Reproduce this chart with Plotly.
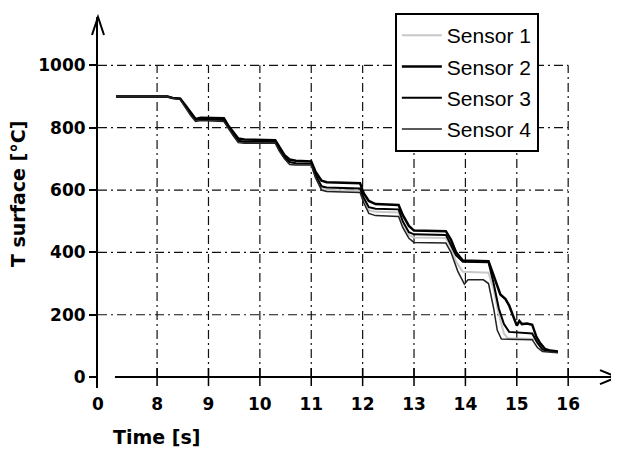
import plotly.graph_objects as go

# time [s] and surface temperature [°C]
t_s1 = [7.2, 8.2, 8.3, 8.45, 8.55, 8.65, 8.75, 8.85, 9.3, 9.38, 9.48, 9.58, 9.7, 10.3, 10.38, 10.48,
        10.58, 10.7, 11.0, 11.08, 11.2, 11.3, 11.95, 12.02, 12.12, 12.25, 12.7, 12.78, 12.9, 13.0,
        13.62, 13.72, 13.82, 13.95, 14.45, 14.55, 14.65, 14.75, 14.82, 15.35, 15.45, 15.55, 15.8]
v_s1 = [900, 900, 895, 892, 866, 842, 822, 826, 822, 800, 776, 754, 752, 752, 727, 702, 688, 684,
        682, 645, 605, 600, 598, 568, 535, 530, 528, 492, 455, 448, 446, 415, 370, 338, 335, 280,
        200, 140, 125, 122, 100, 86, 80]

t_s2 = [7.2, 8.2, 8.3, 8.45, 8.55, 8.65, 8.75, 8.85, 9.3, 9.38, 9.48, 9.58, 9.7, 10.3, 10.38, 10.48,
        10.58, 10.7, 11.0, 11.08, 11.2, 11.3, 11.95, 12.02, 12.12, 12.25, 12.7, 12.78, 12.9, 13.0,
        13.62, 13.72, 13.82, 13.95, 14.45, 14.52, 14.6, 14.68, 14.78, 14.85, 14.92, 15.0, 15.05,
        15.1, 15.2, 15.3, 15.38, 15.45, 15.55, 15.65, 15.8]
v_s2 = [900, 900, 895, 893, 872, 848, 828, 832, 830, 808, 785, 765, 762, 760, 738, 712, 698, 694,
        692, 660, 630, 625, 622, 590, 565, 555, 552, 520, 485, 470, 468, 440, 400, 374, 372, 340,
        300, 265, 250, 230, 200, 165, 180, 170, 172, 168, 130, 110, 90, 85, 82]

t_s3 = [7.2, 8.2, 8.3, 8.45, 8.55, 8.65, 8.75, 8.85, 9.3, 9.38, 9.48, 9.58, 9.7, 10.3, 10.38, 10.48,
        10.58, 10.7, 11.0, 11.08, 11.2, 11.3, 11.95, 12.02, 12.12, 12.25, 12.7, 12.78, 12.9, 13.0,
        13.62, 13.72, 13.82, 13.95, 14.45, 14.55, 14.65, 14.75, 14.85, 15.3, 15.4, 15.5, 15.8]
v_s3 = [900, 900, 895, 893, 868, 845, 825, 828, 825, 802, 780, 758, 755, 755, 730, 705, 690, 686,
        685, 650, 612, 608, 605, 575, 545, 540, 538, 500, 465, 458, 456, 425, 390, 370, 368, 300,
        220, 170, 145, 140, 110, 88, 80]

t_s4 = [7.2, 8.2, 8.3, 8.45, 8.55, 8.65, 8.75, 8.85, 9.3, 9.38, 9.48, 9.58, 9.7, 10.3, 10.38, 10.48,
        10.58, 10.7, 11.0, 11.08, 11.2, 11.3, 11.95, 12.02, 12.12, 12.25, 12.7, 12.78, 12.9, 13.0,
        13.62, 13.72, 13.85, 13.98, 14.05, 14.35, 14.45, 14.55, 14.62, 14.7, 15.3, 15.4, 15.5, 15.8]
v_s4 = [900, 900, 895, 890, 865, 840, 820, 823, 820, 798, 775, 752, 750, 750, 725, 700, 682, 680,
        680, 640, 600, 595, 592, 560, 525, 518, 515, 480, 445, 432, 430, 400, 340, 298, 312, 312,
        300, 220, 150, 122, 120, 95, 82, 78]

sensor_names = ["Sensor 1", "Sensor 2", "Sensor 3", "Sensor 4"]

x_tickvals = [6.85, 8, 9, 10, 11, 12, 13, 14, 15, 16]
x_ticktext = ["0", "8", "9", "10", "11", "12", "13", "14", "15", "16"]
y_tickvals = [0, 200, 400, 600, 800, 1000]

X_MIN, X_MAX = 6.85, 16.95
Y_MIN, Y_MAX = -35, 1155
Y_ZERO_FRAC = (0 - Y_MIN) / (Y_MAX - Y_MIN)

BOLD = dict(family="DejaVu Sans", size=17, color="black", weight="bold")

fig = go.Figure()

styles = [
    dict(color="#c8c8c8", width=2),
    dict(color="black", width=2.5),
    dict(color="black", width=2),
    dict(color="#222222", width=1.5),
]
# sensor 1 (light grey) drawn first so it sits under the others
for rank, name, tt, vv, st in zip(range(4), sensor_names, [t_s1, t_s2, t_s3, t_s4],
                                  [v_s1, v_s2, v_s3, v_s4], styles):
    fig.add_trace(go.Scatter(x=tt, y=vv, mode="lines", name=name, line=st,
                             legendgroup=name, legendrank=rank))

grid = dict(color="#111111", width=1.2, dash="9px,4px,2px,4px")
shapes = []
for xv in x_tickvals[1:]:
    shapes.append(dict(type="line", xref="x", yref="y", x0=xv, x1=xv, y0=0, y1=1000,
                       line=grid, layer="below"))
    # tick crossing the time axis
    shapes.append(dict(type="line", xref="x", yref="y", x0=xv, x1=xv,
                       ysizemode="pixel", yanchor=0, y0=-9, y1=9,
                       line=dict(color="black", width=1.5)))
for yv in y_tickvals[1:]:
    shapes.append(dict(type="line", xref="x", yref="y", x0=X_MIN, x1=16, y0=yv, y1=yv,
                       line=grid, layer="below"))

# time axis with open arrow head
shapes.append(dict(type="line", xref="x", yref="y", x0=7.18, x1=X_MAX, y0=0, y1=0,
                   line=dict(color="black", width=2)))
shapes.append(dict(type="path", xref="paper", yref="paper", xsizemode="pixel", ysizemode="pixel",
                   xanchor=1, yanchor=Y_ZERO_FRAC, path="M-17,7 L0,0 L-17,-7",
                   line=dict(color="black", width=2)))
# temperature axis arrow head
shapes.append(dict(type="path", xref="paper", yref="paper", xsizemode="pixel", ysizemode="pixel",
                   xanchor=0, yanchor=1, path="M-6,-18 L0,0 L6,-18",
                   line=dict(color="black", width=2)))

fig.update_layout(
    width=619,
    height=450,
    margin=dict(l=90, r=10, t=5, b=70),
    paper_bgcolor="white",
    plot_bgcolor="white",
    shapes=shapes,
    showlegend=True,
    legend=dict(
        x=0.572, y=1.0107, xanchor="left", yanchor="top",
        bgcolor="white", bordercolor="black", borderwidth=2,
        font=dict(family="Liberation Sans", size=21, color="black"),
        traceorder="grouped", tracegroupgap=1, itemwidth=40,
    ),
    xaxis=dict(
        range=[X_MIN, X_MAX], tickvals=x_tickvals, ticktext=x_ticktext,
        showgrid=False, zeroline=False, showline=False, ticks="",
        ticklabelstandoff=4, tickfont=BOLD,
    ),
    yaxis=dict(
        range=[Y_MIN, Y_MAX], tickvals=y_tickvals,
        showgrid=False, zeroline=False, showline=True, linecolor="black", linewidth=2,
        ticks="outside", ticklen=7, tickwidth=1.5, tickcolor="black",
        tickfont=BOLD,
    ),
    annotations=[
        dict(text="T surface [°C]", xref="paper", yref="paper", x=-0.154, y=0.523,
             textangle=-90, showarrow=False, xanchor="center", yanchor="middle",
             font=dict(family="DejaVu Sans", size=19, color="black", weight="bold")),
        dict(text="Time [s]", xref="paper", yref="paper", x=0.112, y=-0.131,
             showarrow=False, xanchor="center", yanchor="middle",
             font=dict(family="DejaVu Sans", size=19, color="black", weight="bold")),
    ],
)

fig.write_html("out.html")
